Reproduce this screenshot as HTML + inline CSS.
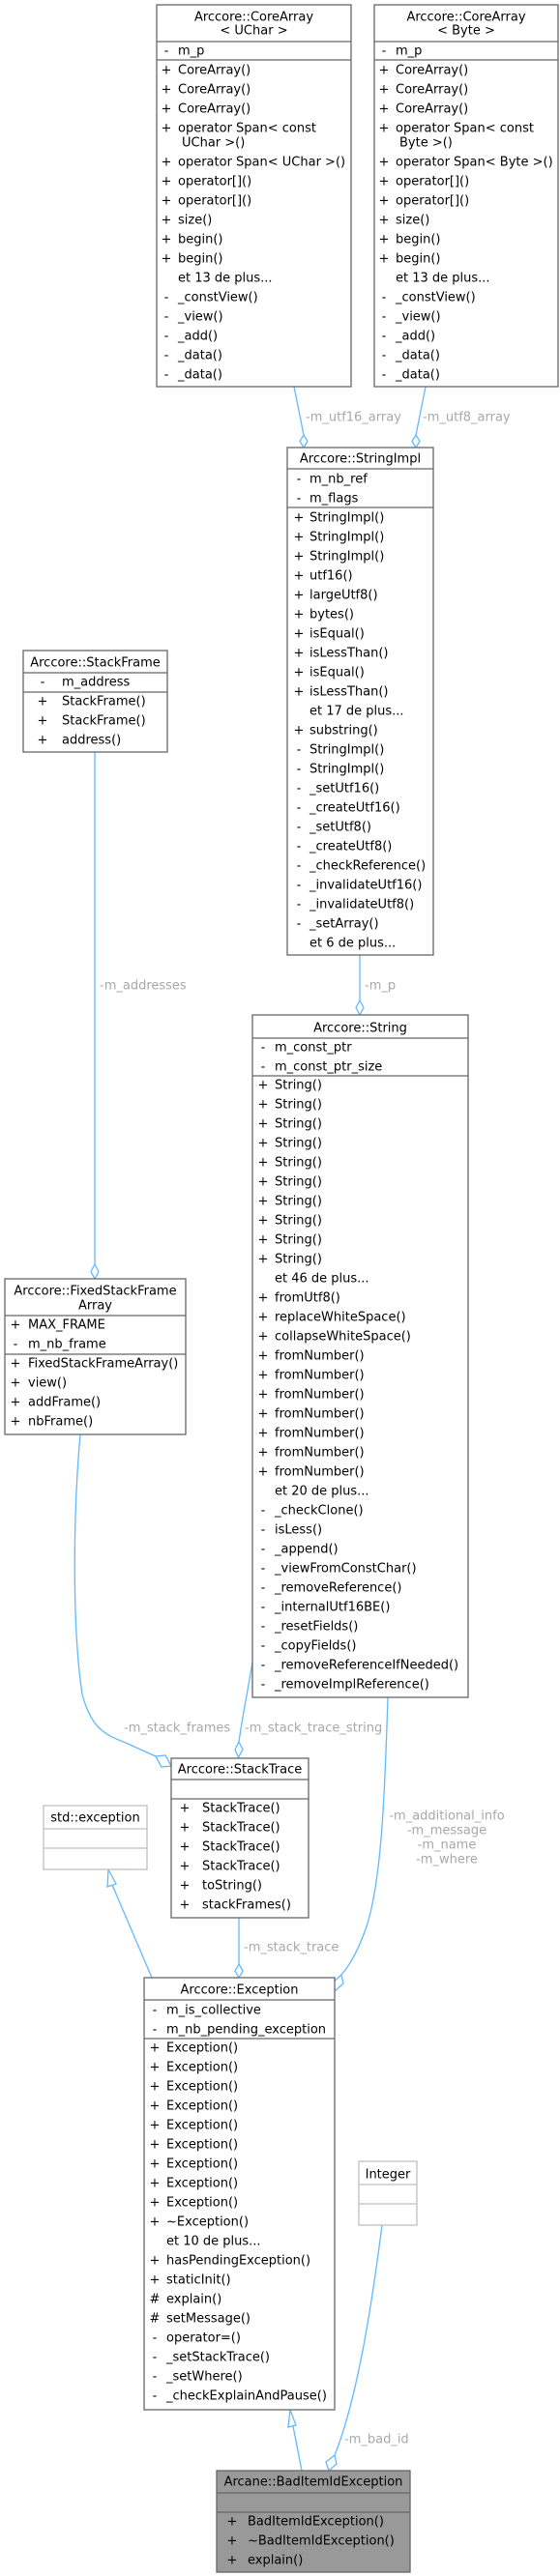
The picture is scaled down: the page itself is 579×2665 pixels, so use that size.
<!DOCTYPE html>
<html><head><meta charset="utf-8"><style>
html,body{margin:0;padding:0;background:#fff;}
svg{display:block;}
text{font-family:"DejaVu Sans","Liberation Sans",sans-serif;font-size:13px;fill:#000;}
.s{text-anchor:middle;}
.c{text-anchor:middle;}
.l{fill:#a8a8a8;}
.b{fill:#fff;stroke:#666;stroke-width:1.3;}
.g{fill:#fff;stroke:#bfbfbf;stroke-width:1.3;}
.d{fill:#999;stroke:#666;stroke-width:1.3;}
.ln{stroke:#666;stroke-width:1.3;}
.lg{stroke:#bfbfbf;stroke-width:1.3;}
.e{fill:none;stroke:#63b8ff;stroke-width:1.3;}
.h{fill:#fff;stroke:#63b8ff;stroke-width:1.3;}
</style></head><body>
<svg width="579" height="2665" viewBox="0 0 579 2665" xmlns="http://www.w3.org/2000/svg">

<!-- edges -->
<path class="e" d="M304,400 L314,450"/>
<polygon class="h" points="314,450 318,456.5 314,463 310,456.5"/>
<path class="e" d="M440,400 L430,450"/>
<polygon class="h" points="430,450 434,456.5 430,463 426,456.5"/>
<path class="e" d="M98,778 L98,1308"/>
<polygon class="h" points="98,1308 102,1315.5 98,1323 94,1315.5"/>
<path class="e" d="M372,988 L372,1035"/>
<polygon class="h" points="372,1035 376,1042.5 372,1050 368,1042.5"/>
<path class="e" d="M83,1484 C76,1560 74,1680 85,1753 C95,1790 110,1795 130,1803 L161,1817"/>
<polygon class="h" points="161,1817 171,1816 177,1827 167,1828"/>
<path class="e" d="M261,1720 C255,1755 250,1780 247,1802"/>
<polygon class="h" points="247,1802 251,1810 246.5,1818 243,1810"/>
<path class="e" d="M401,1756 C398,1850 395,1940 380,1990 C370,2020 360,2035 353,2043"/>
<polygon class="h" points="353,2043 355,2052 346,2060 344,2051"/>
<path class="e" d="M247,1984 L247,2032"/>
<polygon class="h" points="247,2032 251,2039 247,2046 243,2039"/>
<path class="e" d="M157,2046 L116,1950"/>
<polygon class="h" points="112,1934 120,1949 111,1952"/>
<path class="e" d="M395,2302 C385,2380 370,2480 346,2540"/>
<polygon class="h" points="346,2540 348,2549 340,2556 337,2547"/>
<path class="e" d="M312,2556 L303,2510"/>
<polygon class="h" points="300,2493 306,2509 298,2511"/>

<!-- edge labels -->
<text class="l" x="316" y="435.5">-m_utf16_array</text>
<text class="l" x="437" y="435.5">-m_utf8_array</text>
<text class="l" x="103" y="1023.5">-m_addresses</text>
<text class="l" x="377" y="1023.5">-m_p</text>
<text class="l" x="128" y="1791.5">-m_stack_frames</text>
<text class="l" x="253" y="1791.5">-m_stack_trace_string</text>
<text class="l c" x="462" y="1882.5">-m_additional_info</text>
<text class="l c" x="462" y="1897.5">-m_message</text>
<text class="l c" x="462" y="1912.5">-m_name</text>
<text class="l c" x="462" y="1927.5">-m_where</text>
<text class="l" x="252" y="2018.5">-m_stack_trace</text>
<text class="l" x="356" y="2527.5">-m_bad_id</text>

<!-- CoreArray<UChar> -->
<rect class="b" x="162" y="5" width="201" height="395"/>
<line class="ln" x1="162" y1="43" x2="363" y2="43"/>
<line class="ln" x1="162" y1="62" x2="363" y2="62"/>
<text class="c" x="262.5" y="21.5">Arccore::CoreArray</text>
<text class="c" x="262.5" y="35.5">&lt; UChar &gt;</text>
<g>
<text class="s" x="172" y="56.5">-</text><text x="184" y="56.5">m_p</text>
<text class="s" x="172" y="76.5">+</text><text x="184" y="76.5">CoreArray()</text>
<text class="s" x="172" y="96.5">+</text><text x="184" y="96.5">CoreArray()</text>
<text class="s" x="172" y="116.5">+</text><text x="184" y="116.5">CoreArray()</text>
<text class="s" x="172" y="136.5">+</text><text x="184" y="136.5">operator Span&lt; const</text>
<text x="188" y="151.5">UChar &gt;()</text>
<text class="s" x="172" y="171.5">+</text><text x="184" y="171.5">operator Span&lt; UChar &gt;()</text>
<text class="s" x="172" y="191.5">+</text><text x="184" y="191.5">operator[]()</text>
<text class="s" x="172" y="211.5">+</text><text x="184" y="211.5">operator[]()</text>
<text class="s" x="172" y="231.5">+</text><text x="184" y="231.5">size()</text>
<text class="s" x="172" y="251.5">+</text><text x="184" y="251.5">begin()</text>
<text class="s" x="172" y="271.5">+</text><text x="184" y="271.5">begin()</text>
<text x="184" y="291.5">et 13 de plus...</text>
<text class="s" x="172" y="311.5">-</text><text x="184" y="311.5">_constView()</text>
<text class="s" x="172" y="331.5">-</text><text x="184" y="331.5">_view()</text>
<text class="s" x="172" y="351.5">-</text><text x="184" y="351.5">_add()</text>
<text class="s" x="172" y="371.5">-</text><text x="184" y="371.5">_data()</text>
<text class="s" x="172" y="391.5">-</text><text x="184" y="391.5">_data()</text>
</g>

<!-- CoreArray<Byte> -->
<rect class="b" x="387" y="5" width="190" height="395"/>
<line class="ln" x1="387" y1="43" x2="577" y2="43"/>
<line class="ln" x1="387" y1="62" x2="577" y2="62"/>
<text class="c" x="482" y="21.5">Arccore::CoreArray</text>
<text class="c" x="482" y="35.5">&lt; Byte &gt;</text>
<text class="s" x="397" y="56.5">-</text><text x="409" y="56.5">m_p</text>
<text class="s" x="397" y="76.5">+</text><text x="409" y="76.5">CoreArray()</text>
<text class="s" x="397" y="96.5">+</text><text x="409" y="96.5">CoreArray()</text>
<text class="s" x="397" y="116.5">+</text><text x="409" y="116.5">CoreArray()</text>
<text class="s" x="397" y="136.5">+</text><text x="409" y="136.5">operator Span&lt; const</text>
<text x="413" y="151.5">Byte &gt;()</text>
<text class="s" x="397" y="171.5">+</text><text x="409" y="171.5">operator Span&lt; Byte &gt;()</text>
<text class="s" x="397" y="191.5">+</text><text x="409" y="191.5">operator[]()</text>
<text class="s" x="397" y="211.5">+</text><text x="409" y="211.5">operator[]()</text>
<text class="s" x="397" y="231.5">+</text><text x="409" y="231.5">size()</text>
<text class="s" x="397" y="251.5">+</text><text x="409" y="251.5">begin()</text>
<text class="s" x="397" y="271.5">+</text><text x="409" y="271.5">begin()</text>
<text x="409" y="291.5">et 13 de plus...</text>
<text class="s" x="397" y="311.5">-</text><text x="409" y="311.5">_constView()</text>
<text class="s" x="397" y="331.5">-</text><text x="409" y="331.5">_view()</text>
<text class="s" x="397" y="351.5">-</text><text x="409" y="351.5">_add()</text>
<text class="s" x="397" y="371.5">-</text><text x="409" y="371.5">_data()</text>
<text class="s" x="397" y="391.5">-</text><text x="409" y="391.5">_data()</text>

<!-- StringImpl -->
<rect class="b" x="297" y="463" width="151" height="525"/>
<line class="ln" x1="297" y1="485" x2="448" y2="485"/>
<line class="ln" x1="297" y1="525" x2="448" y2="525"/>
<text class="c" x="372.5" y="478.5">Arccore::StringImpl</text>
<text class="s" x="309" y="499.5">-</text><text x="320" y="499.5">m_nb_ref</text>
<text class="s" x="309" y="519.5">-</text><text x="320" y="519.5">m_flags</text>
<text class="s" x="309" y="539.5">+</text><text x="320" y="539.5">StringImpl()</text>
<text class="s" x="309" y="559.5">+</text><text x="320" y="559.5">StringImpl()</text>
<text class="s" x="309" y="579.5">+</text><text x="320" y="579.5">StringImpl()</text>
<text class="s" x="309" y="599.5">+</text><text x="320" y="599.5">utf16()</text>
<text class="s" x="309" y="619.5">+</text><text x="320" y="619.5">largeUtf8()</text>
<text class="s" x="309" y="639.5">+</text><text x="320" y="639.5">bytes()</text>
<text class="s" x="309" y="659.5">+</text><text x="320" y="659.5">isEqual()</text>
<text class="s" x="309" y="679.5">+</text><text x="320" y="679.5">isLessThan()</text>
<text class="s" x="309" y="699.5">+</text><text x="320" y="699.5">isEqual()</text>
<text class="s" x="309" y="719.5">+</text><text x="320" y="719.5">isLessThan()</text>
<text x="320" y="739.5">et 17 de plus...</text>
<text class="s" x="309" y="759.5">+</text><text x="320" y="759.5">substring()</text>
<text class="s" x="309" y="779.5">-</text><text x="320" y="779.5">StringImpl()</text>
<text class="s" x="309" y="799.5">-</text><text x="320" y="799.5">StringImpl()</text>
<text class="s" x="309" y="819.5">-</text><text x="320" y="819.5">_setUtf16()</text>
<text class="s" x="309" y="839.5">-</text><text x="320" y="839.5">_createUtf16()</text>
<text class="s" x="309" y="859.5">-</text><text x="320" y="859.5">_setUtf8()</text>
<text class="s" x="309" y="879.5">-</text><text x="320" y="879.5">_createUtf8()</text>
<text class="s" x="309" y="899.5">-</text><text x="320" y="899.5">_checkReference()</text>
<text class="s" x="309" y="919.5">-</text><text x="320" y="919.5">_invalidateUtf16()</text>
<text class="s" x="309" y="939.5">-</text><text x="320" y="939.5">_invalidateUtf8()</text>
<text class="s" x="309" y="959.5">-</text><text x="320" y="959.5">_setArray()</text>
<text x="320" y="979.5">et 6 de plus...</text>

<!-- StackFrame -->
<rect class="b" x="24" y="673" width="149" height="105"/>
<line class="ln" x1="24" y1="696" x2="173" y2="696"/>
<line class="ln" x1="24" y1="716" x2="173" y2="716"/>
<text class="c" x="98.5" y="689.5">Arccore::StackFrame</text>
<text class="s" x="44" y="709.5">-</text><text x="64" y="709.5">m_address</text>
<text class="s" x="44" y="729.5">+</text><text x="64" y="729.5">StackFrame()</text>
<text class="s" x="44" y="749.5">+</text><text x="64" y="749.5">StackFrame()</text>
<text class="s" x="44" y="769.5">+</text><text x="64" y="769.5">address()</text>

<!-- String -->
<rect class="b" x="261" y="1050" width="223" height="706"/>
<line class="ln" x1="261" y1="1074" x2="484" y2="1074"/>
<line class="ln" x1="261" y1="1113" x2="484" y2="1113"/>
<text class="c" x="372.5" y="1067.5">Arccore::String</text>
<text class="s" x="272" y="1087.5">-</text><text x="284" y="1087.5">m_const_ptr</text>
<text class="s" x="272" y="1107.5">-</text><text x="284" y="1107.5">m_const_ptr_size</text>
<text class="s" x="272" y="1126.5">+</text><text x="284" y="1126.5">String()</text>
<text class="s" x="272" y="1146.5">+</text><text x="284" y="1146.5">String()</text>
<text class="s" x="272" y="1166.5">+</text><text x="284" y="1166.5">String()</text>
<text class="s" x="272" y="1186.5">+</text><text x="284" y="1186.5">String()</text>
<text class="s" x="272" y="1206.5">+</text><text x="284" y="1206.5">String()</text>
<text class="s" x="272" y="1226.5">+</text><text x="284" y="1226.5">String()</text>
<text class="s" x="272" y="1246.5">+</text><text x="284" y="1246.5">String()</text>
<text class="s" x="272" y="1266.5">+</text><text x="284" y="1266.5">String()</text>
<text class="s" x="272" y="1286.5">+</text><text x="284" y="1286.5">String()</text>
<text class="s" x="272" y="1306.5">+</text><text x="284" y="1306.5">String()</text>
<text x="284" y="1326.5">et 46 de plus...</text>
<text class="s" x="272" y="1346.5">+</text><text x="284" y="1346.5">fromUtf8()</text>
<text class="s" x="272" y="1366.5">+</text><text x="284" y="1366.5">replaceWhiteSpace()</text>
<text class="s" x="272" y="1386.5">+</text><text x="284" y="1386.5">collapseWhiteSpace()</text>
<text class="s" x="272" y="1406.5">+</text><text x="284" y="1406.5">fromNumber()</text>
<text class="s" x="272" y="1426.5">+</text><text x="284" y="1426.5">fromNumber()</text>
<text class="s" x="272" y="1446.5">+</text><text x="284" y="1446.5">fromNumber()</text>
<text class="s" x="272" y="1466.5">+</text><text x="284" y="1466.5">fromNumber()</text>
<text class="s" x="272" y="1486.5">+</text><text x="284" y="1486.5">fromNumber()</text>
<text class="s" x="272" y="1506.5">+</text><text x="284" y="1506.5">fromNumber()</text>
<text class="s" x="272" y="1526.5">+</text><text x="284" y="1526.5">fromNumber()</text>
<text x="284" y="1546.5">et 20 de plus...</text>
<text class="s" x="272" y="1566.5">-</text><text x="284" y="1566.5">_checkClone()</text>
<text class="s" x="272" y="1586.5">-</text><text x="284" y="1586.5">isLess()</text>
<text class="s" x="272" y="1606.5">-</text><text x="284" y="1606.5">_append()</text>
<text class="s" x="272" y="1626.5">-</text><text x="284" y="1626.5">_viewFromConstChar()</text>
<text class="s" x="272" y="1646.5">-</text><text x="284" y="1646.5">_removeReference()</text>
<text class="s" x="272" y="1666.5">-</text><text x="284" y="1666.5">_internalUtf16BE()</text>
<text class="s" x="272" y="1686.5">-</text><text x="284" y="1686.5">_resetFields()</text>
<text class="s" x="272" y="1706.5">-</text><text x="284" y="1706.5">_copyFields()</text>
<text class="s" x="272" y="1726.5">-</text><text x="284" y="1726.5">_removeReferenceIfNeeded()</text>
<text class="s" x="272" y="1746.5">-</text><text x="284" y="1746.5">_removeImplReference()</text>

<!-- FixedStackFrameArray -->
<rect class="b" x="5" y="1323" width="187" height="161"/>
<line class="ln" x1="5" y1="1361" x2="192" y2="1361"/>
<line class="ln" x1="5" y1="1401" x2="192" y2="1401"/>
<text class="c" x="98.5" y="1339.5">Arccore::FixedStackFrame</text>
<text class="c" x="98.5" y="1354.5">Array</text>
<text class="s" x="16" y="1374.5">+</text><text x="29" y="1374.5">MAX_FRAME</text>
<text class="s" x="16" y="1394.5">-</text><text x="29" y="1394.5">m_nb_frame</text>
<text class="s" x="16" y="1414.5">+</text><text x="29" y="1414.5">FixedStackFrameArray()</text>
<text class="s" x="16" y="1434.5">+</text><text x="29" y="1434.5">view()</text>
<text class="s" x="16" y="1454.5">+</text><text x="29" y="1454.5">addFrame()</text>
<text class="s" x="16" y="1474.5">+</text><text x="29" y="1474.5">nbFrame()</text>

<!-- StackTrace -->
<rect class="b" x="177" y="1819" width="142" height="165"/>
<line class="ln" x1="177" y1="1841" x2="319" y2="1841"/>
<line class="ln" x1="177" y1="1861" x2="319" y2="1861"/>
<text class="c" x="248" y="1834.5">Arccore::StackTrace</text>
<text class="s" x="191" y="1874.5">+</text><text x="209" y="1874.5">StackTrace()</text>
<text class="s" x="191" y="1894.5">+</text><text x="209" y="1894.5">StackTrace()</text>
<text class="s" x="191" y="1914.5">+</text><text x="209" y="1914.5">StackTrace()</text>
<text class="s" x="191" y="1934.5">+</text><text x="209" y="1934.5">StackTrace()</text>
<text class="s" x="191" y="1954.5">+</text><text x="209" y="1954.5">toString()</text>
<text class="s" x="191" y="1974.5">+</text><text x="209" y="1974.5">stackFrames()</text>

<!-- std::exception -->
<rect class="g" x="45" y="1868" width="107" height="66"/>
<line class="lg" x1="45" y1="1892" x2="152" y2="1892"/>
<line class="lg" x1="45" y1="1912" x2="152" y2="1912"/>
<text class="c" x="98.5" y="1884.5">std::exception</text>

<!-- Exception -->
<rect class="b" x="149" y="2046" width="197" height="447"/>
<line class="ln" x1="149" y1="2069" x2="346" y2="2069"/>
<line class="ln" x1="149" y1="2109" x2="346" y2="2109"/>
<text class="c" x="247.5" y="2062.5">Arccore::Exception</text>
<text class="s" x="160" y="2083.5">-</text><text x="172" y="2083.5">m_is_collective</text>
<text class="s" x="160" y="2103.5">-</text><text x="172" y="2103.5">m_nb_pending_exception</text>
<text class="s" x="160" y="2122.5">+</text><text x="172" y="2122.5">Exception()</text>
<text class="s" x="160" y="2142.5">+</text><text x="172" y="2142.5">Exception()</text>
<text class="s" x="160" y="2162.5">+</text><text x="172" y="2162.5">Exception()</text>
<text class="s" x="160" y="2182.5">+</text><text x="172" y="2182.5">Exception()</text>
<text class="s" x="160" y="2202.5">+</text><text x="172" y="2202.5">Exception()</text>
<text class="s" x="160" y="2222.5">+</text><text x="172" y="2222.5">Exception()</text>
<text class="s" x="160" y="2242.5">+</text><text x="172" y="2242.5">Exception()</text>
<text class="s" x="160" y="2262.5">+</text><text x="172" y="2262.5">Exception()</text>
<text class="s" x="160" y="2282.5">+</text><text x="172" y="2282.5">Exception()</text>
<text class="s" x="160" y="2302.5">+</text><text x="172" y="2302.5">~Exception()</text>
<text x="172" y="2322.5">et 10 de plus...</text>
<text class="s" x="160" y="2342.5">+</text><text x="172" y="2342.5">hasPendingException()</text>
<text class="s" x="160" y="2362.5">+</text><text x="172" y="2362.5">staticInit()</text>
<text class="s" x="160" y="2382.5">#</text><text x="172" y="2382.5">explain()</text>
<text class="s" x="160" y="2402.5">#</text><text x="172" y="2402.5">setMessage()</text>
<text class="s" x="160" y="2422.5">-</text><text x="172" y="2422.5">operator=()</text>
<text class="s" x="160" y="2442.5">-</text><text x="172" y="2442.5">_setStackTrace()</text>
<text class="s" x="160" y="2462.5">-</text><text x="172" y="2462.5">_setWhere()</text>
<text class="s" x="160" y="2482.5">-</text><text x="172" y="2482.5">_checkExplainAndPause()</text>

<!-- Integer -->
<rect class="g" x="371" y="2236" width="60" height="66"/>
<line class="lg" x1="371" y1="2260" x2="431" y2="2260"/>
<line class="lg" x1="371" y1="2280" x2="431" y2="2280"/>
<text class="c" x="401" y="2253.5">Integer</text>

<!-- BadItemIdException -->
<rect class="d" x="224" y="2556" width="200" height="105"/>
<line class="ln" x1="224" y1="2579" x2="424" y2="2579"/>
<line class="ln" x1="224" y1="2599" x2="424" y2="2599"/>
<text class="c" x="324" y="2571.5">Arcane::BadItemIdException</text>
<text class="s" x="240" y="2612.5">+</text><text x="256" y="2612.5">BadItemIdException()</text>
<text class="s" x="240" y="2632.5">+</text><text x="256" y="2632.5">~BadItemIdException()</text>
<text class="s" x="240" y="2652.5">+</text><text x="256" y="2652.5">explain()</text>

</svg>
</body></html>
